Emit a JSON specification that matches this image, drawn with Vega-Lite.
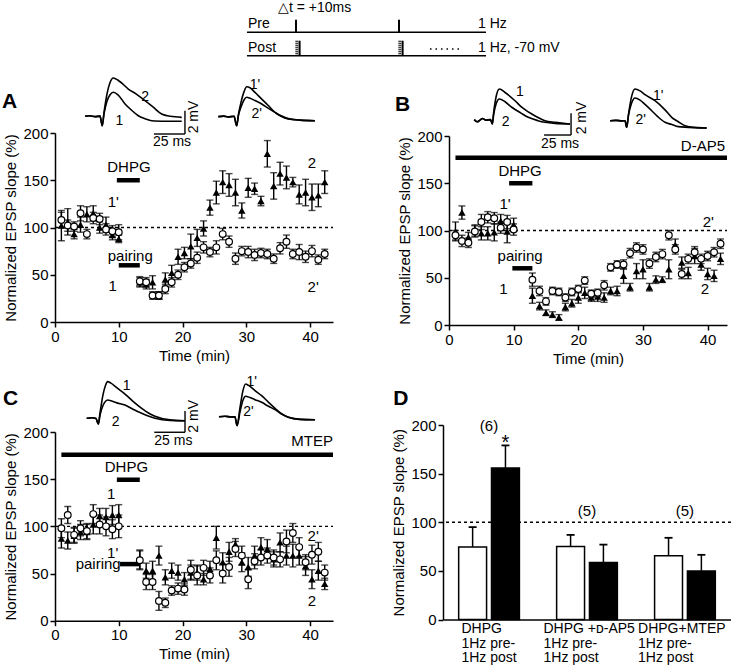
{
"$schema":"https://vega.github.io/schema/vega-lite/v6.json",
"autosize":{"type":"pad"},
"padding":{"left":2,"top":1,"right":0,"bottom":0},
"config":{"font":"Liberation Sans","view":{"stroke":null},
"axis":{"grid":false,"domainColor":"black","domainWidth":1.5,"tickColor":"black","tickWidth":1.5,"tickSize":5,"labelFontSize":15,"labelColor":"black","labelPadding":2,"titleFontSize":15,"titleFontWeight":"normal","titleColor":"black","labelFlush":false},
"text":{"fontSize":15,"color":"black"},"rule":{"color":"black"},"line":{"color":"black"}},
"datasets":{
"series":[
{"p":"A","s":"tri","t":1,"v":102,"e":16},{"p":"A","s":"tri","t":2,"v":106,"e":14},{"p":"A","s":"tri","t":3,"v":93,"e":5},{"p":"A","s":"tri","t":4,"v":103,"e":8},{"p":"A","s":"tri","t":5,"v":114,"e":8},{"p":"A","s":"tri","t":6,"v":115,"e":8},{"p":"A","s":"tri","t":7,"v":100,"e":6},{"p":"A","s":"tri","t":8,"v":103,"e":8},{"p":"A","s":"tri","t":9,"v":92,"e":5},{"p":"A","s":"tri","t":10,"v":88,"e":4},{"p":"A","s":"tri","t":13.3,"v":42,"e":5},{"p":"A","s":"tri","t":14.3,"v":40,"e":5},{"p":"A","s":"tri","t":15.3,"v":42,"e":7},{"p":"A","s":"tri","t":16.3,"v":28,"e":4},{"p":"A","s":"tri","t":17.3,"v":45,"e":7},{"p":"A","s":"tri","t":18.3,"v":52,"e":8},{"p":"A","s":"tri","t":19.3,"v":69,"e":8},{"p":"A","s":"tri","t":20.3,"v":73,"e":6},{"p":"A","s":"tri","t":21.3,"v":80,"e":13},{"p":"A","s":"tri","t":22.3,"v":89,"e":9},{"p":"A","s":"tri","t":23.3,"v":99,"e":8},{"p":"A","s":"tri","t":24.3,"v":121,"e":8},{"p":"A","s":"tri","t":25.3,"v":137,"e":12},{"p":"A","s":"tri","t":26.3,"v":148,"e":12},{"p":"A","s":"tri","t":27.3,"v":145,"e":12},{"p":"A","s":"tri","t":28.3,"v":137,"e":14},{"p":"A","s":"tri","t":29.3,"v":118,"e":8},{"p":"A","s":"tri","t":30.3,"v":142,"e":10},{"p":"A","s":"tri","t":31.3,"v":141,"e":6},{"p":"A","s":"tri","t":32.3,"v":128,"e":5},{"p":"A","s":"tri","t":33.3,"v":178,"e":14},{"p":"A","s":"tri","t":34.3,"v":144,"e":14},{"p":"A","s":"tri","t":35.3,"v":157,"e":12},{"p":"A","s":"tri","t":36.3,"v":153,"e":12},{"p":"A","s":"tri","t":37.3,"v":148,"e":5},{"p":"A","s":"tri","t":38.3,"v":135,"e":10},{"p":"A","s":"tri","t":39.3,"v":137,"e":14},{"p":"A","s":"tri","t":40.3,"v":132,"e":14},{"p":"A","s":"tri","t":41.3,"v":134,"e":12},{"p":"A","s":"tri","t":42.3,"v":148,"e":12},
{"p":"A","s":"circ","t":1,"v":108,"e":8},{"p":"A","s":"circ","t":2,"v":102,"e":6},{"p":"A","s":"circ","t":3,"v":101,"e":5},{"p":"A","s":"circ","t":4,"v":115,"e":8},{"p":"A","s":"circ","t":5,"v":93,"e":5},{"p":"A","s":"circ","t":6,"v":110,"e":6},{"p":"A","s":"circ","t":7,"v":109,"e":6},{"p":"A","s":"circ","t":8,"v":98,"e":6},{"p":"A","s":"circ","t":9,"v":96,"e":6},{"p":"A","s":"circ","t":10,"v":95,"e":8},{"p":"A","s":"circ","t":13.3,"v":43,"e":5},{"p":"A","s":"circ","t":14.3,"v":42,"e":5},{"p":"A","s":"circ","t":15.3,"v":28,"e":4},{"p":"A","s":"circ","t":16.3,"v":28,"e":4},{"p":"A","s":"circ","t":17.3,"v":35,"e":5},{"p":"A","s":"circ","t":18.3,"v":42,"e":5},{"p":"A","s":"circ","t":19.3,"v":50,"e":5},{"p":"A","s":"circ","t":20.3,"v":58,"e":5},{"p":"A","s":"circ","t":21.3,"v":62,"e":5},{"p":"A","s":"circ","t":22.3,"v":68,"e":6},{"p":"A","s":"circ","t":23.3,"v":79,"e":6},{"p":"A","s":"circ","t":24.3,"v":74,"e":5},{"p":"A","s":"circ","t":25.3,"v":79,"e":7},{"p":"A","s":"circ","t":26.3,"v":93,"e":6},{"p":"A","s":"circ","t":27.3,"v":85,"e":6},{"p":"A","s":"circ","t":28.3,"v":67,"e":6},{"p":"A","s":"circ","t":29.3,"v":75,"e":5},{"p":"A","s":"circ","t":30.3,"v":74,"e":6},{"p":"A","s":"circ","t":31.3,"v":71,"e":6},{"p":"A","s":"circ","t":32.3,"v":73,"e":5},{"p":"A","s":"circ","t":33.3,"v":72,"e":5},{"p":"A","s":"circ","t":34.3,"v":67,"e":5},{"p":"A","s":"circ","t":35.3,"v":78,"e":6},{"p":"A","s":"circ","t":36.3,"v":85,"e":7},{"p":"A","s":"circ","t":37.3,"v":72,"e":5},{"p":"A","s":"circ","t":38.3,"v":74,"e":8},{"p":"A","s":"circ","t":39.3,"v":69,"e":6},{"p":"A","s":"circ","t":40.3,"v":75,"e":6},{"p":"A","s":"circ","t":41.3,"v":66,"e":5},{"p":"A","s":"circ","t":42.3,"v":72,"e":5},
{"p":"B","s":"tri","t":1,"v":99,"e":10},{"p":"B","s":"tri","t":2,"v":119,"e":7},{"p":"B","s":"tri","t":3,"v":93,"e":5},{"p":"B","s":"tri","t":4,"v":100,"e":6},{"p":"B","s":"tri","t":5,"v":97,"e":7},{"p":"B","s":"tri","t":6,"v":97,"e":7},{"p":"B","s":"tri","t":7,"v":98,"e":9},{"p":"B","s":"tri","t":8,"v":110,"e":7},{"p":"B","s":"tri","t":9,"v":99,"e":12},{"p":"B","s":"tri","t":10,"v":106,"e":7},{"p":"B","s":"tri","t":12.9,"v":31,"e":8},{"p":"B","s":"tri","t":14,"v":20,"e":4},{"p":"B","s":"tri","t":15,"v":13,"e":3},{"p":"B","s":"tri","t":16,"v":11,"e":3},{"p":"B","s":"tri","t":17,"v":8,"e":3},{"p":"B","s":"tri","t":18,"v":19,"e":4},{"p":"B","s":"tri","t":19,"v":23,"e":4},{"p":"B","s":"tri","t":20,"v":29,"e":6},{"p":"B","s":"tri","t":21,"v":34,"e":6},{"p":"B","s":"tri","t":22,"v":29,"e":4},{"p":"B","s":"tri","t":23,"v":30,"e":5},{"p":"B","s":"tri","t":24,"v":29,"e":5},{"p":"B","s":"tri","t":25,"v":36,"e":4},{"p":"B","s":"tri","t":26,"v":36,"e":5},{"p":"B","s":"tri","t":27,"v":52,"e":8},{"p":"B","s":"tri","t":28,"v":40,"e":4},{"p":"B","s":"tri","t":29,"v":57,"e":8},{"p":"B","s":"tri","t":30,"v":59,"e":10},{"p":"B","s":"tri","t":31,"v":40,"e":4},{"p":"B","s":"tri","t":32,"v":48,"e":4},{"p":"B","s":"tri","t":33,"v":48,"e":3},{"p":"B","s":"tri","t":34,"v":59,"e":10},{"p":"B","s":"tri","t":35,"v":85,"e":6},{"p":"B","s":"tri","t":36,"v":66,"e":6},{"p":"B","s":"tri","t":37,"v":55,"e":6},{"p":"B","s":"tri","t":38,"v":73,"e":8},{"p":"B","s":"tri","t":39,"v":64,"e":6},{"p":"B","s":"tri","t":40,"v":54,"e":6},{"p":"B","s":"tri","t":41,"v":52,"e":6},{"p":"B","s":"tri","t":42,"v":70,"e":6},
{"p":"B","s":"circ","t":1,"v":95,"e":5},{"p":"B","s":"circ","t":2,"v":89,"e":6},{"p":"B","s":"circ","t":3,"v":87,"e":5},{"p":"B","s":"circ","t":4,"v":99,"e":6},{"p":"B","s":"circ","t":5,"v":109,"e":8},{"p":"B","s":"circ","t":6,"v":114,"e":6},{"p":"B","s":"circ","t":7,"v":113,"e":6},{"p":"B","s":"circ","t":8,"v":103,"e":6},{"p":"B","s":"circ","t":9,"v":109,"e":7},{"p":"B","s":"circ","t":10,"v":101,"e":6},{"p":"B","s":"circ","t":12.9,"v":48,"e":7},{"p":"B","s":"circ","t":14,"v":36,"e":5},{"p":"B","s":"circ","t":15,"v":25,"e":4},{"p":"B","s":"circ","t":16,"v":36,"e":4},{"p":"B","s":"circ","t":17,"v":35,"e":4},{"p":"B","s":"circ","t":18,"v":29,"e":4},{"p":"B","s":"circ","t":19,"v":35,"e":4},{"p":"B","s":"circ","t":20,"v":38,"e":4},{"p":"B","s":"circ","t":21,"v":47,"e":4},{"p":"B","s":"circ","t":22,"v":33,"e":4},{"p":"B","s":"circ","t":23,"v":34,"e":4},{"p":"B","s":"circ","t":24,"v":42,"e":5},{"p":"B","s":"circ","t":25,"v":61,"e":4},{"p":"B","s":"circ","t":26,"v":64,"e":4},{"p":"B","s":"circ","t":27,"v":64,"e":5},{"p":"B","s":"circ","t":28,"v":76,"e":5},{"p":"B","s":"circ","t":29,"v":82,"e":5},{"p":"B","s":"circ","t":30,"v":80,"e":5},{"p":"B","s":"circ","t":31,"v":65,"e":5},{"p":"B","s":"circ","t":32,"v":72,"e":5},{"p":"B","s":"circ","t":33,"v":75,"e":5},{"p":"B","s":"circ","t":34,"v":95,"e":5},{"p":"B","s":"circ","t":35,"v":80,"e":5},{"p":"B","s":"circ","t":36,"v":54,"e":5},{"p":"B","s":"circ","t":37,"v":70,"e":5},{"p":"B","s":"circ","t":38,"v":77,"e":6},{"p":"B","s":"circ","t":39,"v":70,"e":5},{"p":"B","s":"circ","t":40,"v":73,"e":5},{"p":"B","s":"circ","t":41,"v":77,"e":5},{"p":"B","s":"circ","t":42,"v":86,"e":5},
{"p":"C","s":"tri","t":1,"v":87,"e":10},{"p":"C","s":"tri","t":2,"v":85,"e":9},{"p":"C","s":"tri","t":3,"v":90,"e":8},{"p":"C","s":"tri","t":4,"v":94,"e":8},{"p":"C","s":"tri","t":5,"v":94,"e":8},{"p":"C","s":"tri","t":6,"v":102,"e":10},{"p":"C","s":"tri","t":7,"v":111,"e":8},{"p":"C","s":"tri","t":8,"v":110,"e":9},{"p":"C","s":"tri","t":9,"v":112,"e":10},{"p":"C","s":"tri","t":10,"v":112,"e":11},{"p":"C","s":"tri","t":13.3,"v":65,"e":10},{"p":"C","s":"tri","t":14.3,"v":53,"e":8},{"p":"C","s":"tri","t":15.3,"v":53,"e":10},{"p":"C","s":"tri","t":16.3,"v":69,"e":10},{"p":"C","s":"tri","t":17.3,"v":46,"e":8},{"p":"C","s":"tri","t":18.3,"v":53,"e":8},{"p":"C","s":"tri","t":19.3,"v":51,"e":8},{"p":"C","s":"tri","t":20.3,"v":44,"e":7},{"p":"C","s":"tri","t":21.3,"v":51,"e":8},{"p":"C","s":"tri","t":22.3,"v":51,"e":8},{"p":"C","s":"tri","t":23.3,"v":44,"e":6},{"p":"C","s":"tri","t":24.3,"v":55,"e":8},{"p":"C","s":"tri","t":25.3,"v":88,"e":12},{"p":"C","s":"tri","t":26.3,"v":62,"e":10},{"p":"C","s":"tri","t":27.3,"v":73,"e":10},{"p":"C","s":"tri","t":28.3,"v":81,"e":6},{"p":"C","s":"tri","t":29.3,"v":62,"e":10},{"p":"C","s":"tri","t":30.3,"v":57,"e":10},{"p":"C","s":"tri","t":31.3,"v":69,"e":10},{"p":"C","s":"tri","t":32.3,"v":78,"e":10},{"p":"C","s":"tri","t":33.3,"v":76,"e":10},{"p":"C","s":"tri","t":34.3,"v":65,"e":8},{"p":"C","s":"tri","t":35.3,"v":83,"e":10},{"p":"C","s":"tri","t":36.3,"v":69,"e":10},{"p":"C","s":"tri","t":37.3,"v":69,"e":12},{"p":"C","s":"tri","t":38.3,"v":69,"e":10},{"p":"C","s":"tri","t":39.3,"v":58,"e":10},{"p":"C","s":"tri","t":40.3,"v":44,"e":10},{"p":"C","s":"tri","t":41.3,"v":53,"e":10},{"p":"C","s":"tri","t":42.3,"v":39,"e":6},
{"p":"C","s":"circ","t":1,"v":98,"e":10},{"p":"C","s":"circ","t":2,"v":112,"e":9},{"p":"C","s":"circ","t":3,"v":91,"e":8},{"p":"C","s":"circ","t":4,"v":98,"e":8},{"p":"C","s":"circ","t":5,"v":95,"e":8},{"p":"C","s":"circ","t":6,"v":113,"e":10},{"p":"C","s":"circ","t":7,"v":102,"e":10},{"p":"C","s":"circ","t":8,"v":100,"e":10},{"p":"C","s":"circ","t":9,"v":97,"e":10},{"p":"C","s":"circ","t":10,"v":100,"e":12},{"p":"C","s":"circ","t":13.3,"v":64,"e":10},{"p":"C","s":"circ","t":14.3,"v":41,"e":8},{"p":"C","s":"circ","t":15.3,"v":41,"e":8},{"p":"C","s":"circ","t":16.3,"v":21,"e":10},{"p":"C","s":"circ","t":17.3,"v":19,"e":5},{"p":"C","s":"circ","t":18.3,"v":32,"e":5},{"p":"C","s":"circ","t":19.3,"v":34,"e":6},{"p":"C","s":"circ","t":20.3,"v":33,"e":6},{"p":"C","s":"circ","t":21.3,"v":54,"e":10},{"p":"C","s":"circ","t":22.3,"v":48,"e":10},{"p":"C","s":"circ","t":23.3,"v":56,"e":8},{"p":"C","s":"circ","t":24.3,"v":48,"e":8},{"p":"C","s":"circ","t":25.3,"v":64,"e":10},{"p":"C","s":"circ","t":26.3,"v":50,"e":10},{"p":"C","s":"circ","t":27.3,"v":57,"e":10},{"p":"C","s":"circ","t":28.3,"v":76,"e":8},{"p":"C","s":"circ","t":29.3,"v":69,"e":10},{"p":"C","s":"circ","t":30.3,"v":44,"e":10},{"p":"C","s":"circ","t":31.3,"v":63,"e":8},{"p":"C","s":"circ","t":32.3,"v":67,"e":8},{"p":"C","s":"circ","t":33.3,"v":69,"e":8},{"p":"C","s":"circ","t":34.3,"v":67,"e":8},{"p":"C","s":"circ","t":35.3,"v":65,"e":8},{"p":"C","s":"circ","t":36.3,"v":84,"e":12},{"p":"C","s":"circ","t":37.3,"v":93,"e":10},{"p":"C","s":"circ","t":38.3,"v":78,"e":10},{"p":"C","s":"circ","t":39.3,"v":62,"e":8},{"p":"C","s":"circ","t":40.3,"v":70,"e":10},{"p":"C","s":"circ","t":41.3,"v":73,"e":10},{"p":"C","s":"circ","t":42.3,"v":51,"e":8}
],
"rules":[
{"p":"A","k":"dash","t":0,"t2":43.6,"v":100,"v2":100},{"p":"A","k":"bar","t":9.7,"t2":13.3,"v":150,"v2":150},{"p":"A","k":"bar","t":10,"t2":13.3,"v":60,"v2":60},
{"p":"B","k":"dash","t":0,"t2":43,"v":100,"v2":100},{"p":"B","k":"bar","t":1,"t2":43,"v":177,"v2":177},{"p":"B","k":"bar","t":9.3,"t2":12.9,"v":150,"v2":150},{"p":"B","k":"bar","t":9.8,"t2":12.9,"v":60,"v2":60},
{"p":"C","k":"dash","t":0,"t2":43.6,"v":100,"v2":100},{"p":"C","k":"bar","t":1,"t2":43.6,"v":176,"v2":176},{"p":"C","k":"bar","t":9.7,"t2":13.3,"v":149.4,"v2":149.4},{"p":"C","k":"bar","t":10.2,"t2":13.3,"v":60,"v2":60}
],
"labels":[
{"p":"A","k":"L","t":-8.3,"v":232.8,"txt":"A"},{"p":"A","k":"c","t":11.6,"v":163.7,"txt":"DHPG"},{"p":"A","k":"c","t":11.8,"v":70.2,"txt":"pairing"},{"p":"A","k":"c","t":9.15,"v":127.3,"txt":"1'"},{"p":"A","k":"c","t":9.05,"v":38.4,"txt":"1"},{"p":"A","k":"c","t":40.3,"v":168,"txt":"2"},{"p":"A","k":"c","t":40.5,"v":36.7,"txt":"2'"},
{"p":"B","k":"L","t":-8.35,"v":232.9,"txt":"B"},{"p":"B","k":"c","t":11,"v":163.2,"txt":"DHPG"},{"p":"B","k":"c","t":11,"v":73,"txt":"pairing"},{"p":"B","k":"c","t":8.66,"v":128,"txt":"1'"},{"p":"B","k":"c","t":8.4,"v":37.8,"txt":"1"},{"p":"B","k":"c","t":40.1,"v":108.5,"txt":"2'"},{"p":"B","k":"c","t":39.6,"v":37.8,"txt":"2"},{"p":"B","k":"r","t":42.7,"v":189,"txt":"D-AP5"},
{"p":"C","k":"L","t":-8.16,"v":235,"txt":"C"},{"p":"C","k":"c","t":11.2,"v":162.6,"txt":"DHPG"},{"p":"C","k":"c","t":8.8,"v":134,"txt":"1"},{"p":"C","k":"c","t":9.05,"v":71.4,"txt":"1'"},{"p":"C","k":"c","t":40.5,"v":90,"txt":"2'"},{"p":"C","k":"c","t":40.3,"v":21.2,"txt":"2"},{"p":"C","k":"r","t":10.3,"v":60,"txt":"pairing"},{"p":"C","k":"r","t":43.6,"v":190.8,"txt":"MTEP"}
],
"traces":[
{"p":"A","tr":"2","t":24.2,"v":0},{"p":"A","tr":"2","t":28,"v":0.05},{"p":"A","tr":"2","t":32.3,"v":-0.03},{"p":"A","tr":"2","t":36.3,"v":0.02},{"p":"A","tr":"2","t":38.1,"v":-0.81},{"p":"A","tr":"2","t":39.5,"v":0.3},{"p":"A","tr":"2","t":41.9,"v":1.9},{"p":"A","tr":"2","t":44.4,"v":2.9},{"p":"A","tr":"2","t":47,"v":3.29},{"p":"A","tr":"2","t":50.8,"v":3.1},{"p":"A","tr":"2","t":55,"v":2.75},{"p":"A","tr":"2","t":59.1,"v":2.34},{"p":"A","tr":"2","t":65,"v":1.95},{"p":"A","tr":"2","t":72.6,"v":1.34},{"p":"A","tr":"2","t":79,"v":0.8},{"p":"A","tr":"2","t":86,"v":0.2},{"p":"A","tr":"2","t":93,"v":0},{"p":"A","tr":"2","t":102.2,"v":-0.09},
{"p":"A","tr":"1","t":24.2,"v":0},{"p":"A","tr":"1","t":28,"v":0.05},{"p":"A","tr":"1","t":32.3,"v":-0.03},{"p":"A","tr":"1","t":36.3,"v":0.02},{"p":"A","tr":"1","t":38.1,"v":-0.81},{"p":"A","tr":"1","t":39.5,"v":0.2},{"p":"A","tr":"1","t":41.9,"v":1.3},{"p":"A","tr":"1","t":44.4,"v":1.85},{"p":"A","tr":"1","t":47,"v":2.06},{"p":"A","tr":"1","t":50.8,"v":1.85},{"p":"A","tr":"1","t":56.5,"v":1.06},{"p":"A","tr":"1","t":62,"v":0.5},{"p":"A","tr":"1","t":67.2,"v":0.05},{"p":"A","tr":"1","t":72.6,"v":-0.2},{"p":"A","tr":"1","t":78,"v":-0.38},{"p":"A","tr":"1","t":90,"v":-0.42},{"p":"A","tr":"1","t":102.2,"v":-0.43},
{"p":"A","tr":"1p","t":131.7,"v":-0.03},{"p":"A","tr":"1p","t":136,"v":0.02},{"p":"A","tr":"1p","t":139.5,"v":-0.05},{"p":"A","tr":"1p","t":144.4,"v":0},{"p":"A","tr":"1p","t":146.5,"v":-0.81},{"p":"A","tr":"1p","t":148,"v":0.2},{"p":"A","tr":"1p","t":150,"v":1.2},{"p":"A","tr":"1p","t":152.4,"v":2.1},{"p":"A","tr":"1p","t":154.6,"v":2.54},{"p":"A","tr":"1p","t":157.3,"v":2.45},{"p":"A","tr":"1p","t":161.3,"v":2.05},{"p":"A","tr":"1p","t":166.7,"v":1.48},{"p":"A","tr":"1p","t":171.8,"v":0.95},{"p":"A","tr":"1p","t":177.4,"v":0.34},{"p":"A","tr":"1p","t":182.3,"v":0},{"p":"A","tr":"1p","t":188.1,"v":-0.23},{"p":"A","tr":"1p","t":197.6,"v":-0.33},{"p":"A","tr":"1p","t":209.7,"v":-0.38},
{"p":"A","tr":"2p","t":131.7,"v":-0.03},{"p":"A","tr":"2p","t":136,"v":0.02},{"p":"A","tr":"2p","t":139.5,"v":-0.05},{"p":"A","tr":"2p","t":144.4,"v":0},{"p":"A","tr":"2p","t":146.5,"v":-0.81},{"p":"A","tr":"2p","t":148,"v":0.1},{"p":"A","tr":"2p","t":150,"v":0.8},{"p":"A","tr":"2p","t":152.4,"v":1.4},{"p":"A","tr":"2p","t":154.6,"v":1.63},{"p":"A","tr":"2p","t":157.3,"v":1.55},{"p":"A","tr":"2p","t":161.3,"v":1.35},{"p":"A","tr":"2p","t":166.7,"v":1.06},{"p":"A","tr":"2p","t":171.8,"v":0.7},{"p":"A","tr":"2p","t":177.4,"v":0.34},{"p":"A","tr":"2p","t":182.3,"v":0.05},{"p":"A","tr":"2p","t":188.1,"v":-0.2},{"p":"A","tr":"2p","t":197.6,"v":-0.33},{"p":"A","tr":"2p","t":209.7,"v":-0.38},
{"p":"B","tr":"1","t":23.4,"v":0.1},{"p":"B","tr":"1","t":26,"v":-0.1},{"p":"B","tr":"1","t":28.7,"v":0.05},{"p":"B","tr":"1","t":31,"v":0.2},{"p":"B","tr":"1","t":34.3,"v":0.05},{"p":"B","tr":"1","t":38.4,"v":0.1},{"p":"B","tr":"1","t":40.1,"v":-0.3},{"p":"B","tr":"1","t":41.4,"v":0.8},{"p":"B","tr":"1","t":43.8,"v":2.3},{"p":"B","tr":"1","t":46.6,"v":2.92},{"p":"B","tr":"1","t":51.9,"v":2.6},{"p":"B","tr":"1","t":61.1,"v":1.84},{"p":"B","tr":"1","t":66.7,"v":1.3},{"p":"B","tr":"1","t":76.6,"v":0.62},{"p":"B","tr":"1","t":82.4,"v":0.3},{"p":"B","tr":"1","t":88.9,"v":0},{"p":"B","tr":"1","t":98.1,"v":-0.15},{"p":"B","tr":"1","t":112,"v":-0.3},
{"p":"B","tr":"2","t":23.4,"v":0.1},{"p":"B","tr":"2","t":26,"v":-0.1},{"p":"B","tr":"2","t":28.7,"v":0.05},{"p":"B","tr":"2","t":31,"v":0.2},{"p":"B","tr":"2","t":34.3,"v":0.05},{"p":"B","tr":"2","t":38.4,"v":0.1},{"p":"B","tr":"2","t":40.1,"v":-0.3},{"p":"B","tr":"2","t":41.4,"v":0.6},{"p":"B","tr":"2","t":43.8,"v":1.6},{"p":"B","tr":"2","t":46.6,"v":2.0},{"p":"B","tr":"2","t":51.9,"v":1.75},{"p":"B","tr":"2","t":58.1,"v":1.24},{"p":"B","tr":"2","t":66.7,"v":0.7},{"p":"B","tr":"2","t":73.4,"v":0.31},{"p":"B","tr":"2","t":82.4,"v":0},{"p":"B","tr":"2","t":88.9,"v":-0.15},{"p":"B","tr":"2","t":98.1,"v":-0.25},{"p":"B","tr":"2","t":112,"v":-0.3},
{"p":"B","tr":"1p","t":149.1,"v":0},{"p":"B","tr":"1p","t":154.6,"v":0.03},{"p":"B","tr":"1p","t":160.2,"v":-0.02},{"p":"B","tr":"1p","t":163,"v":0},{"p":"B","tr":"1p","t":164.5,"v":-0.61},{"p":"B","tr":"1p","t":166.2,"v":0.6},{"p":"B","tr":"1p","t":169,"v":2.2},{"p":"B","tr":"1p","t":172.2,"v":2.92},{"p":"B","tr":"1p","t":176.9,"v":2.75},{"p":"B","tr":"1p","t":181.5,"v":2.4},{"p":"B","tr":"1p","t":190.7,"v":1.84},{"p":"B","tr":"1p","t":200,"v":1.0},{"p":"B","tr":"1p","t":206.2,"v":0.31},{"p":"B","tr":"1p","t":212.3,"v":-0.1},{"p":"B","tr":"1p","t":218.5,"v":-0.46},{"p":"B","tr":"1p","t":227.8,"v":-0.62},{"p":"B","tr":"1p","t":238.6,"v":-0.67},
{"p":"B","tr":"2p","t":149.1,"v":0},{"p":"B","tr":"2p","t":154.6,"v":0.03},{"p":"B","tr":"2p","t":160.2,"v":-0.02},{"p":"B","tr":"2p","t":163,"v":0},{"p":"B","tr":"2p","t":164.5,"v":-0.61},{"p":"B","tr":"2p","t":166.2,"v":0.5},{"p":"B","tr":"2p","t":169,"v":1.6},{"p":"B","tr":"2p","t":172.2,"v":2.09},{"p":"B","tr":"2p","t":176.9,"v":1.9},{"p":"B","tr":"2p","t":181.5,"v":1.5},{"p":"B","tr":"2p","t":187.7,"v":0.92},{"p":"B","tr":"2p","t":193,"v":0.4},{"p":"B","tr":"2p","t":200,"v":-0.15},{"p":"B","tr":"2p","t":206.2,"v":-0.35},{"p":"B","tr":"2p","t":212.3,"v":-0.55},{"p":"B","tr":"2p","t":227.8,"v":-0.65},{"p":"B","tr":"2p","t":238.6,"v":-0.67},
{"p":"C","tr":"1","t":25.8,"v":0},{"p":"C","tr":"1","t":30.1,"v":0.05},{"p":"C","tr":"1","t":33.3,"v":-0.02},{"p":"C","tr":"1","t":35.2,"v":-0.54},{"p":"C","tr":"1","t":36.6,"v":0.5},{"p":"C","tr":"1","t":39,"v":2.2},{"p":"C","tr":"1","t":41.1,"v":3.1},{"p":"C","tr":"1","t":42.8,"v":3.44},{"p":"C","tr":"1","t":45.5,"v":3.3},{"p":"C","tr":"1","t":50.4,"v":2.85},{"p":"C","tr":"1","t":56.9,"v":2.28},{"p":"C","tr":"1","t":63.4,"v":1.6},{"p":"C","tr":"1","t":70.5,"v":0.94},{"p":"C","tr":"1","t":76,"v":0.5},{"p":"C","tr":"1","t":81.3,"v":0.19},{"p":"C","tr":"1","t":93.5,"v":-0.15},{"p":"C","tr":"1","t":105.7,"v":-0.23},
{"p":"C","tr":"2","t":25.8,"v":0},{"p":"C","tr":"2","t":30.1,"v":0.05},{"p":"C","tr":"2","t":33.3,"v":-0.02},{"p":"C","tr":"2","t":35.2,"v":-0.54},{"p":"C","tr":"2","t":36.6,"v":0.3},{"p":"C","tr":"2","t":39,"v":1.2},{"p":"C","tr":"2","t":41.1,"v":1.6},{"p":"C","tr":"2","t":42.8,"v":1.72},{"p":"C","tr":"2","t":45.5,"v":1.65},{"p":"C","tr":"2","t":50.4,"v":1.45},{"p":"C","tr":"2","t":56.9,"v":1.25},{"p":"C","tr":"2","t":63.4,"v":0.85},{"p":"C","tr":"2","t":70.5,"v":0.47},{"p":"C","tr":"2","t":81.3,"v":0},{"p":"C","tr":"2","t":93.5,"v":-0.2},{"p":"C","tr":"2","t":105.7,"v":-0.23},
{"p":"C","tr":"1p","t":133.3,"v":0.15},{"p":"C","tr":"1p","t":138.2,"v":0.2},{"p":"C","tr":"1p","t":143.1,"v":0.12},{"p":"C","tr":"1p","t":146.3,"v":0.15},{"p":"C","tr":"1p","t":148,"v":-0.69},{"p":"C","tr":"1p","t":150.4,"v":1.0},{"p":"C","tr":"1p","t":152.8,"v":2.6},{"p":"C","tr":"1p","t":155,"v":3.22},{"p":"C","tr":"1p","t":158.5,"v":3.0},{"p":"C","tr":"1p","t":162.6,"v":2.6},{"p":"C","tr":"1p","t":168,"v":2.12},{"p":"C","tr":"1p","t":173.2,"v":1.55},{"p":"C","tr":"1p","t":178.9,"v":0.94},{"p":"C","tr":"1p","t":183.7,"v":0.45},{"p":"C","tr":"1p","t":189.7,"v":0.09},{"p":"C","tr":"1p","t":199.2,"v":-0.1},{"p":"C","tr":"1p","t":211.4,"v":-0.13},
{"p":"C","tr":"2p","t":133.3,"v":0.15},{"p":"C","tr":"2p","t":138.2,"v":0.2},{"p":"C","tr":"2p","t":143.1,"v":0.12},{"p":"C","tr":"2p","t":146.3,"v":0.15},{"p":"C","tr":"2p","t":148,"v":-0.69},{"p":"C","tr":"2p","t":150.4,"v":0.6},{"p":"C","tr":"2p","t":152.8,"v":1.7},{"p":"C","tr":"2p","t":155,"v":2.07},{"p":"C","tr":"2p","t":158.5,"v":1.95},{"p":"C","tr":"2p","t":162.6,"v":1.75},{"p":"C","tr":"2p","t":168,"v":1.5},{"p":"C","tr":"2p","t":173.2,"v":1.15},{"p":"C","tr":"2p","t":178.9,"v":0.81},{"p":"C","tr":"2p","t":183.7,"v":0.45},{"p":"C","tr":"2p","t":189.7,"v":0.09},{"p":"C","tr":"2p","t":199.2,"v":-0.1},{"p":"C","tr":"2p","t":211.4,"v":-0.13}
],
"scalebars":[
{"p":"A","t":79.8,"t2":104.8,"v":-1.52,"v2":-1.52},{"p":"A","t":104.8,"t2":104.8,"v":0.48,"v2":-1.52},
{"p":"B","t":88,"t2":113,"v":-1.32,"v2":-1.32},{"p":"B","t":113,"t2":113,"v":0.68,"v2":-1.32},
{"p":"C","t":80.7,"t2":105.7,"v":-1.31,"v2":-1.31},{"p":"C","t":105.7,"t2":105.7,"v":0.69,"v2":-1.31}
],
"tlabels":[
{"p":"A","k":"c","t":94.4,"v":-2.23,"txt":"25 ms"},{"p":"A","k":"rot","t":112.1,"v":-0.06,"txt":"2 mV"},{"p":"A","k":"c","t":72.6,"v":1.63,"txt":"2"},{"p":"A","k":"c","t":51.9,"v":-0.38,"txt":"1"},{"p":"A","k":"c","t":161.3,"v":2.71,"txt":"1'"},{"p":"A","k":"c","t":162.7,"v":0.2,"txt":"2'"},
{"p":"B","k":"c","t":102.8,"v":-2.15,"txt":"25 ms"},{"p":"B","k":"rot","t":123.4,"v":0.25,"txt":"2 mV"},{"p":"B","k":"c","t":65.7,"v":2.62,"txt":"1"},{"p":"B","k":"c","t":52.5,"v":-0.15,"txt":"2"},{"p":"B","k":"c","t":193.8,"v":2.3,"txt":"1'"},{"p":"B","k":"c","t":177.5,"v":0.06,"txt":"2'"},
{"p":"C","k":"c","t":96.2,"v":-2.1,"txt":"25 ms"},{"p":"C","k":"rot","t":112.8,"v":0.19,"txt":"2 mV"},{"p":"C","k":"c","t":58.3,"v":3.06,"txt":"1"},{"p":"C","k":"c","t":49.3,"v":-0.38,"txt":"2"},{"p":"C","k":"c","t":159.9,"v":3.38,"txt":"1'"},{"p":"C","k":"c","t":157.2,"v":0.56,"txt":"2'"}
],
"schem":[
{"k":"line","t":-476,"t2":1845,"v":2.67,"v2":2.67},{"k":"line","t":-476,"t2":1845,"v":0.33,"v2":0.33},
{"k":"tick","t":0,"t2":0,"v":2.67,"v2":3.93},{"k":"tick","t":1000,"t2":1000,"v":2.67,"v2":3.93},
{"k":"tick","t":35,"t2":35,"v":0.33,"v2":1.83},{"k":"tick","t":1035,"t2":1035,"v":0.33,"v2":1.83},
{"k":"hatch","t":8,"t2":8,"v":0.33,"v2":1.83},{"k":"hatch","t":1008,"t2":1008,"v":0.33,"v2":1.83},
{"k":"dots","t":1301,"t2":1592,"v":1.0,"v2":1.0}
],
"schemtext":[
{"t":-175,"v":5.1,"txt":"△t = +10ms"},{"t":-466,"v":3.5,"txt":"Pre"},{"t":1767,"v":3.5,"txt":"1 Hz"},{"t":-466,"v":1.1,"txt":"Post"},{"t":1767,"v":1.1,"txt":"1 Hz, -70 mV"}
],
"dbars":[
{"g":"DHPG|1Hz pre-|1Hz post","c":"control","v":74.5,"hi":95},{"g":"DHPG|1Hz pre-|1Hz post","c":"paired","v":155.7,"hi":179},
{"g":"DHPG +ᴅ-AP5|1Hz pre-|1Hz post","c":"control","v":75,"hi":87},{"g":"DHPG +ᴅ-AP5|1Hz pre-|1Hz post","c":"paired","v":58.5,"hi":77},
{"g":"DHPG+MTEP|1Hz pre-|1Hz post","c":"control","v":65.5,"hi":84},{"g":"DHPG+MTEP|1Hz pre-|1Hz post","c":"paired","v":50,"hi":66.5}
],
"dtext":[
{"g":"DHPG|1Hz pre-|1Hz post","v":199.3,"txt":"(6)"},{"g":"DHPG +ᴅ-AP5|1Hz pre-|1Hz post","v":111.6,"txt":"(5)"},{"g":"DHPG+MTEP|1Hz pre-|1Hz post","v":111.6,"txt":"(5)"}
],
"dstar":[{"g":"DHPG|1Hz pre-|1Hz post","c":"paired","v":181,"txt":"*"}],
"dletter":[{"x":-0.1726,"v":226.8,"txt":"D"}]
},
"columns":2,"bounds":"flush","spacing":{"row":49,"column":110},
"concat":[
{"width":278,"height":251,
"layer":[
{"encoding":{"x":{"field":"t","type":"quantitative","scale":{"domain":[0,43.6],"nice":false,"zero":false},"axis":{"values":[0,10,20,30,40],"title":"Time (min)"}},"y":{"field":"v","type":"quantitative","scale":{"domain":[0,200],"range":[251,62],"nice":false,"zero":false},"axis":{"values":[0,50,100,150,200],"title":"Normalized EPSP slope (%)"}}},
"layer":[
{"data":{"name":"rules"},"transform":[{"filter":"datum.p=='A' && datum.k=='dash'"}],"mark":{"type":"rule","strokeDash":[3,3],"strokeWidth":1.3},"encoding":{"x2":{"field":"t2"},"y2":{"field":"v2"}}},
{"data":{"name":"rules"},"transform":[{"filter":"datum.p=='A' && datum.k=='bar'"}],"mark":{"type":"rule","strokeWidth":4.5},"encoding":{"x2":{"field":"t2"},"y2":{"field":"v2"}}},
{"data":{"name":"series"},"transform":[{"filter":"datum.p=='A'"}],"mark":{"type":"errorbar","ticks":true,"size":7,"thickness":1.4,"color":"black"},"encoding":{"yError":{"field":"e"}}},
{"data":{"name":"series"},"transform":[{"filter":"datum.p=='A' && datum.s=='tri'"}],"mark":{"type":"point","shape":"triangle-up","filled":true,"color":"black","size":55,"opacity":1}},
{"data":{"name":"series"},"transform":[{"filter":"datum.p=='A' && datum.s=='circ'"}],"mark":{"type":"point","shape":"circle","filled":true,"fill":"white","stroke":"black","strokeWidth":1.2,"size":45,"opacity":1}},
{"data":{"name":"labels"},"transform":[{"filter":"datum.p=='A' && datum.k=='c'"}],"mark":{"type":"text","align":"center","baseline":"middle"},"encoding":{"text":{"field":"txt"}}},
{"data":{"name":"labels"},"transform":[{"filter":"datum.p=='A' && datum.k=='L'"}],"mark":{"type":"text","align":"left","baseline":"middle","fontSize":21,"fontWeight":"bold"},"encoding":{"text":{"field":"txt"}}}
]},
{"encoding":{"x":{"field":"t","type":"quantitative","scale":{"domain":[0,224.2],"nice":false,"zero":false},"axis":null},"y":{"field":"v","type":"quantitative","scale":{"domain":[-17.66,3.89],"nice":false,"zero":false},"axis":null}},
"layer":[
{"data":{"name":"traces"},"transform":[{"filter":"datum.p=='A'"}],"mark":{"type":"line","strokeWidth":1.6,"interpolate":"monotone"},"encoding":{"detail":{"field":"tr"}}},
{"data":{"name":"scalebars"},"transform":[{"filter":"datum.p=='A'"}],"mark":{"type":"rule","strokeWidth":1.4},"encoding":{"x2":{"field":"t2"},"y2":{"field":"v2"}}},
{"data":{"name":"tlabels"},"transform":[{"filter":"datum.p=='A' && datum.k=='c'"}],"mark":{"type":"text","align":"center","baseline":"middle","fontSize":14},"encoding":{"text":{"field":"txt"}}},
{"data":{"name":"tlabels"},"transform":[{"filter":"datum.p=='A' && datum.k=='rot'"}],"mark":{"type":"text","align":"center","baseline":"middle","angle":270,"fontSize":14},"encoding":{"text":{"field":"txt"}}}
]},
{"encoding":{"x":{"field":"t","type":"quantitative","scale":{"domain":[-2339.8,359.2],"nice":false,"zero":false},"axis":null},"y":{"field":"v","type":"quantitative","scale":{"domain":[-26.3,-1.2],"nice":false,"zero":false},"axis":null}},
"layer":[
{"data":{"name":"schem"},"transform":[{"filter":"datum.k=='line'"}],"mark":{"type":"rule","strokeWidth":1.5},"encoding":{"x2":{"field":"t2"},"y2":{"field":"v2"}}},
{"data":{"name":"schem"},"transform":[{"filter":"datum.k=='tick'"}],"mark":{"type":"rule","strokeWidth":2},"encoding":{"x2":{"field":"t2"},"y2":{"field":"v2"}}},
{"data":{"name":"schem"},"transform":[{"filter":"datum.k=='hatch'"}],"mark":{"type":"rule","strokeWidth":3,"strokeDash":[1,1]},"encoding":{"x2":{"field":"t2"},"y2":{"field":"v2"}}},
{"data":{"name":"schem"},"transform":[{"filter":"datum.k=='dots'"}],"mark":{"type":"rule","strokeWidth":1.5,"strokeDash":[1.5,4]},"encoding":{"x2":{"field":"t2"},"y2":{"field":"v2"}}},
{"data":{"name":"schemtext"},"mark":{"type":"text","align":"left","baseline":"middle","fontSize":14},"encoding":{"text":{"field":"txt"}}}
]}
],
"resolve":{"scale":{"x":"independent","y":"independent"}}},
{"width":284,"height":254,
"layer":[
{"encoding":{"x":{"field":"t","type":"quantitative","scale":{"domain":[0,43],"range":[6,284],"nice":false,"zero":false},"axis":{"values":[0,10,20,30,40],"title":"Time (min)"}},"y":{"field":"v","type":"quantitative","scale":{"domain":[0,200],"range":[254,65],"nice":false,"zero":false},"axis":{"values":[0,50,100,150,200],"title":"Normalized EPSP slope (%)","offset":-6}}},
"layer":[
{"data":{"name":"rules"},"transform":[{"filter":"datum.p=='B' && datum.k=='dash'"}],"mark":{"type":"rule","strokeDash":[3,3],"strokeWidth":1.3},"encoding":{"x2":{"field":"t2"},"y2":{"field":"v2"}}},
{"data":{"name":"rules"},"transform":[{"filter":"datum.p=='B' && datum.k=='bar'"}],"mark":{"type":"rule","strokeWidth":4.5},"encoding":{"x2":{"field":"t2"},"y2":{"field":"v2"}}},
{"data":{"name":"series"},"transform":[{"filter":"datum.p=='B'"}],"mark":{"type":"errorbar","ticks":true,"size":7,"thickness":1.4,"color":"black"},"encoding":{"yError":{"field":"e"}}},
{"data":{"name":"series"},"transform":[{"filter":"datum.p=='B' && datum.s=='tri'"}],"mark":{"type":"point","shape":"triangle-up","filled":true,"color":"black","size":55,"opacity":1}},
{"data":{"name":"series"},"transform":[{"filter":"datum.p=='B' && datum.s=='circ'"}],"mark":{"type":"point","shape":"circle","filled":true,"fill":"white","stroke":"black","strokeWidth":1.2,"size":45,"opacity":1}},
{"data":{"name":"labels"},"transform":[{"filter":"datum.p=='B' && datum.k=='c'"}],"mark":{"type":"text","align":"center","baseline":"middle"},"encoding":{"text":{"field":"txt"}}},
{"data":{"name":"labels"},"transform":[{"filter":"datum.p=='B' && datum.k=='r'"}],"mark":{"type":"text","align":"right","baseline":"middle"},"encoding":{"text":{"field":"txt"}}},
{"data":{"name":"labels"},"transform":[{"filter":"datum.p=='B' && datum.k=='L'"}],"mark":{"type":"text","align":"left","baseline":"middle","fontSize":21,"fontWeight":"bold"},"encoding":{"text":{"field":"txt"}}}
]},
{"encoding":{"x":{"field":"t","type":"quantitative","scale":{"domain":[-5.56,257.4],"nice":false,"zero":false},"axis":null},"y":{"field":"v","type":"quantitative","scale":{"domain":[-18.83,4.58],"nice":false,"zero":false},"axis":null}},
"layer":[
{"data":{"name":"traces"},"transform":[{"filter":"datum.p=='B'"}],"mark":{"type":"line","strokeWidth":1.6,"interpolate":"monotone"},"encoding":{"detail":{"field":"tr"}}},
{"data":{"name":"scalebars"},"transform":[{"filter":"datum.p=='B'"}],"mark":{"type":"rule","strokeWidth":1.4},"encoding":{"x2":{"field":"t2"},"y2":{"field":"v2"}}},
{"data":{"name":"tlabels"},"transform":[{"filter":"datum.p=='B' && datum.k=='c'"}],"mark":{"type":"text","align":"center","baseline":"middle","fontSize":14},"encoding":{"text":{"field":"txt"}}},
{"data":{"name":"tlabels"},"transform":[{"filter":"datum.p=='B' && datum.k=='rot'"}],"mark":{"type":"text","align":"center","baseline":"middle","angle":270,"fontSize":14},"encoding":{"text":{"field":"txt"}}}
]}
],
"resolve":{"scale":{"x":"independent","y":"independent"}}},
{"width":278,"height":246.7,
"layer":[
{"encoding":{"x":{"field":"t","type":"quantitative","scale":{"domain":[0,43.6],"nice":false,"zero":false},"axis":{"values":[0,10,20,30,40],"title":"Time (min)"}},"y":{"field":"v","type":"quantitative","scale":{"domain":[0,200],"range":[246.7,58],"nice":false,"zero":false},"axis":{"values":[0,50,100,150,200],"title":"Normalized EPSP slope (%)"}}},
"layer":[
{"data":{"name":"rules"},"transform":[{"filter":"datum.p=='C' && datum.k=='dash'"}],"mark":{"type":"rule","strokeDash":[3,3],"strokeWidth":1.3},"encoding":{"x2":{"field":"t2"},"y2":{"field":"v2"}}},
{"data":{"name":"rules"},"transform":[{"filter":"datum.p=='C' && datum.k=='bar'"}],"mark":{"type":"rule","strokeWidth":4.5},"encoding":{"x2":{"field":"t2"},"y2":{"field":"v2"}}},
{"data":{"name":"series"},"transform":[{"filter":"datum.p=='C'"}],"mark":{"type":"errorbar","ticks":true,"size":7,"thickness":1.4,"color":"black"},"encoding":{"yError":{"field":"e"}}},
{"data":{"name":"series"},"transform":[{"filter":"datum.p=='C' && datum.s=='tri'"}],"mark":{"type":"point","shape":"triangle-up","filled":true,"color":"black","size":55,"opacity":1}},
{"data":{"name":"series"},"transform":[{"filter":"datum.p=='C' && datum.s=='circ'"}],"mark":{"type":"point","shape":"circle","filled":true,"fill":"white","stroke":"black","strokeWidth":1.2,"size":45,"opacity":1}},
{"data":{"name":"labels"},"transform":[{"filter":"datum.p=='C' && datum.k=='c'"}],"mark":{"type":"text","align":"center","baseline":"middle"},"encoding":{"text":{"field":"txt"}}},
{"data":{"name":"labels"},"transform":[{"filter":"datum.p=='C' && datum.k=='r'"}],"mark":{"type":"text","align":"right","baseline":"middle"},"encoding":{"text":{"field":"txt"}}},
{"data":{"name":"labels"},"transform":[{"filter":"datum.p=='C' && datum.k=='L'"}],"mark":{"type":"text","align":"left","baseline":"middle","fontSize":21,"fontWeight":"bold"},"encoding":{"text":{"field":"txt"}}}
]},
{"encoding":{"x":{"field":"t","type":"quantitative","scale":{"domain":[0,226],"nice":false,"zero":false},"axis":null},"y":{"field":"v","type":"quantitative","scale":{"domain":[-19.0,4.16],"nice":false,"zero":false},"axis":null}},
"layer":[
{"data":{"name":"traces"},"transform":[{"filter":"datum.p=='C'"}],"mark":{"type":"line","strokeWidth":1.6,"interpolate":"monotone"},"encoding":{"detail":{"field":"tr"}}},
{"data":{"name":"scalebars"},"transform":[{"filter":"datum.p=='C'"}],"mark":{"type":"rule","strokeWidth":1.4},"encoding":{"x2":{"field":"t2"},"y2":{"field":"v2"}}},
{"data":{"name":"tlabels"},"transform":[{"filter":"datum.p=='C' && datum.k=='c'"}],"mark":{"type":"text","align":"center","baseline":"middle","fontSize":14},"encoding":{"text":{"field":"txt"}}},
{"data":{"name":"tlabels"},"transform":[{"filter":"datum.p=='C' && datum.k=='rot'"}],"mark":{"type":"text","align":"center","baseline":"middle","angle":270,"fontSize":14},"encoding":{"text":{"field":"txt"}}}
]}
],
"resolve":{"scale":{"x":"independent","y":"independent"}}},
{"width":288,"height":245.5,
"layer":[
{"layer":[
{"data":{"values":[{}]},"mark":{"type":"rule","strokeDash":[3,3],"strokeWidth":1.3},"encoding":{"y":{"datum":100,"type":"quantitative","scale":{"domain":[0,200],"range":[245.5,51],"nice":false,"zero":false},"axis":{"values":[0,50,100,150,200],"title":"Normalized EPSP slope (%)"}}}},
{"data":{"name":"dbars"},"mark":{"type":"bar","stroke":"black","strokeWidth":1.5},"encoding":{
"x":{"field":"g","type":"nominal","sort":null,"scale":{"paddingInner":0.38,"paddingOuter":0.16},"axis":{"title":null,"ticks":false,"labelAngle":0,"labelExpr":"split(datum.label,'|')","labelAlign":"left","labelBaseline":"top","labelPadding":2,"labelFontSize":14,"labelLineHeight":14.5,"labelOffset":{"condition":[{"test":"datum.value=='DHPG|1Hz pre-|1Hz post'","value":-27.6},{"test":"datum.value=='DHPG +ᴅ-AP5|1Hz pre-|1Hz post'","value":-43.5}],"value":-46.9}}},
"xOffset":{"field":"c","type":"nominal","scale":{"paddingInner":0.15,"paddingOuter":0}},
"y":{"field":"v","type":"quantitative","scale":{"domain":[0,200],"range":[245.5,51],"nice":false,"zero":false},"axis":{"values":[0,50,100,150,200],"title":"Normalized EPSP slope (%)"}},
"fill":{"field":"c","type":"nominal","scale":{"domain":["control","paired"],"range":["white","black"]},"legend":null}}},
{"data":{"name":"dbars"},"mark":{"type":"rule","strokeWidth":1.5},"encoding":{
"x":{"field":"g","type":"nominal","sort":null},
"xOffset":{"field":"c","type":"nominal"},
"y":{"field":"v","type":"quantitative"},"y2":{"field":"hi"}}},
{"data":{"name":"dbars"},"mark":{"type":"tick","orient":"horizontal","size":8,"thickness":1.8,"color":"black","opacity":1},"encoding":{
"x":{"field":"g","type":"nominal","sort":null},
"xOffset":{"field":"c","type":"nominal"},
"y":{"field":"hi","type":"quantitative"}}},
{"data":{"name":"dtext"},"mark":{"type":"text","align":"center","baseline":"middle"},"encoding":{
"x":{"field":"g","type":"nominal","sort":null},
"y":{"field":"v","type":"quantitative"},"text":{"field":"txt"}}},
{"data":{"name":"dstar"},"mark":{"type":"text","align":"center","baseline":"middle","fontSize":20},"encoding":{
"x":{"field":"g","type":"nominal","sort":null},
"xOffset":{"field":"c","type":"nominal"},
"y":{"field":"v","type":"quantitative"},"text":{"field":"txt"}}}
]},
{"data":{"name":"dletter"},"mark":{"type":"text","align":"left","baseline":"middle","fontSize":21,"fontWeight":"bold"},"encoding":{"x":{"field":"x","type":"quantitative","scale":{"domain":[0,1],"nice":false,"zero":false},"axis":null},"y":{"field":"v","type":"quantitative","scale":{"domain":[0,200],"range":[245.5,51],"nice":false,"zero":false}},"text":{"field":"txt"}}}
],
"resolve":{"scale":{"x":"independent"}}}
]
}
